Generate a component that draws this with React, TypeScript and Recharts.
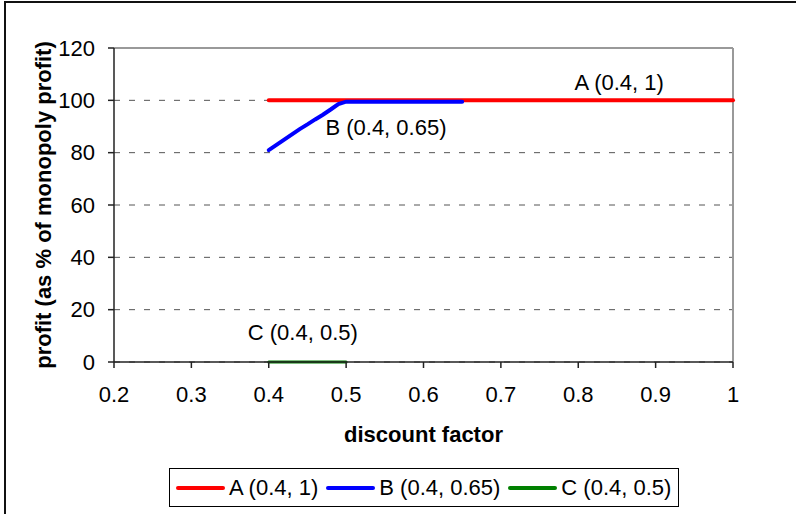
import React from 'react'
import {
  LineChart,
  Line,
  XAxis,
  YAxis,
  CartesianGrid,
  ReferenceLine,
  ReferenceDot,
} from 'recharts'

// discount factor / profit pairs for each strategy
const aDiscount = [0.4, 1]
const aProfit = [100, 100]

const bDiscount = [0.4, 0.41, 0.42, 0.43, 0.44, 0.45, 0.46, 0.47, 0.48, 0.49, 0.5, 0.55, 0.6, 0.65]
const bProfit = [81, 83, 85, 87, 89, 90.8, 92.7, 94.5, 96.5, 98.6, 99.5, 99.5, 99.5, 99.5]

const cDiscount = [0.4, 0.5]
const cProfit = [0, 0]

const xTicks = [0.2, 0.3, 0.4, 0.5, 0.6, 0.7, 0.8, 0.9, 1]
const yTicks = [0, 20, 40, 60, 80, 100, 120]

const toPoints = (xs: number[], ys: number[]) => xs.map((x, i) => ({ x, y: ys[i] }))

const series = [
  { name: 'A (0.4, 1)', color: '#ff0000', width: 4, data: toPoints(aDiscount, aProfit), tag: { x: 0.853, y: 106.8 } },
  { name: 'B (0.4, 0.65)', color: '#0000ff', width: 4, data: toPoints(bDiscount, bProfit), tag: { x: 0.5515, y: 89.6 } },
  { name: 'C (0.4, 0.5)', color: '#008000', width: 3, data: toPoints(cDiscount, cProfit), tag: { x: 0.444, y: 11.5 } },
]

const FONT = '"Liberation Sans", Arial, sans-serif'
const FS = 22

const App = () => {
  return (
    <div
      style={{
        position: 'fixed',
        left: 0,
        top: 0,
        width: 796,
        height: 514,
        overflow: 'hidden',
        background: '#fff',
        fontFamily: FONT,
      }}
    >
      {/* outer chart frame; only the left and top edges fall inside the view */}
      <svg width={796} height={514} style={{ position: 'absolute', left: 0, top: 0 }}>
        <path d="M5 514 V2 H796" fill="none" stroke="#111" strokeWidth={2} />
      </svg>
      <div style={{ position: 'absolute', left: 0, top: 0 }}>
        <LineChart width={796} height={514} margin={{ top: 48, right: 63, bottom: 8, left: 0 }}>
          <CartesianGrid vertical={false} stroke="#555" strokeDasharray="6 9" />
          <ReferenceLine y={120} stroke="#999" strokeWidth={2} />
          <ReferenceLine x={1} stroke="#999" strokeWidth={2} />
          <XAxis
            dataKey="x"
            type="number"
            domain={[0.2, 1]}
            ticks={xTicks}
            allowDuplicatedCategory={false}
            tickFormatter={(v: number) => String(v)}
            height={144}
            tickSize={6}
            tickMargin={18}
            stroke="#222"
            strokeWidth={1.5}
            tick={{ fill: '#000', fontSize: FS, fontFamily: FONT }}
            label={{
              value: 'discount factor',
              position: 'center',
              fill: '#000',
              fontSize: FS,
              fontWeight: 'bold',
              fontFamily: FONT,
            }}
          />
          <YAxis
            type="number"
            domain={[0, 120]}
            ticks={yTicks}
            width={114}
            tickSize={6}
            tickMargin={13}
            stroke="#222"
            strokeWidth={1.5}
            tick={{ fill: '#000', fontSize: FS, fontFamily: FONT }}
            label={{
              value: 'profit (as % of monopoly profit)',
              position: 'center',
              angle: -90,
              dx: -14,
              fill: '#000',
              fontSize: FS,
              fontWeight: 'bold',
              fontFamily: FONT,
            }}
          />
          {series.map((s) => (
            <Line
              key={s.name}
              data={s.data}
              dataKey="y"
              name={s.name}
              type="linear"
              stroke={s.color}
              strokeWidth={s.width}
              strokeLinecap="round"
              dot={false}
              activeDot={false}
              isAnimationActive={false}
            />
          ))}
          {series.map((s) => (
            <ReferenceDot
              key={s.name + '-tag'}
              x={s.tag.x}
              y={s.tag.y}
              r={0}
              fill="none"
              stroke="none"
              label={{ value: s.name, position: 'center', fill: '#000', fontSize: FS, fontFamily: FONT }}
            />
          ))}
        </LineChart>
      </div>
      <div
        style={{
          position: 'absolute',
          left: 169,
          top: 468,
          width: 510,
          height: 39,
          boxSizing: 'border-box',
          border: '1.5px solid #000',
          display: 'flex',
          alignItems: 'center',
          paddingLeft: 6,
          fontSize: FS,
          color: '#000',
        }}
      >
        {series.map((s) => (
          <div key={s.name} style={{ display: 'flex', alignItems: 'center', marginRight: 8 }}>
            <span
              style={{
                display: 'inline-block',
                width: 49,
                height: 4,
                borderRadius: 2,
                background: s.color,
                marginRight: 4,
              }}
            />
            <span style={{ whiteSpace: 'nowrap' }}>{s.name}</span>
          </div>
        ))}
      </div>
    </div>
  )
}

export default App
